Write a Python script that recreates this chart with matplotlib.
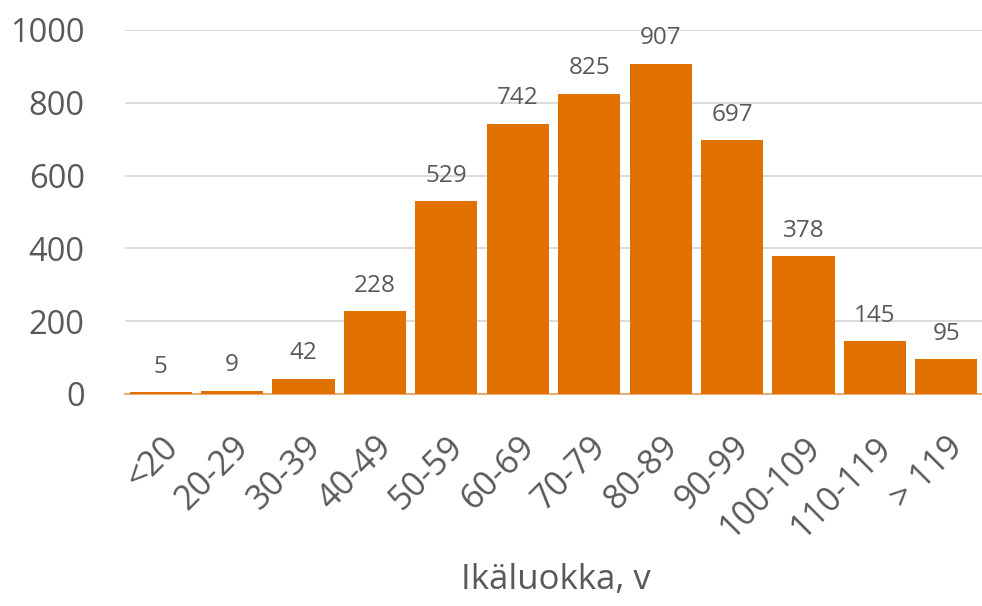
import matplotlib
matplotlib.use("Agg")
import matplotlib.pyplot as plt

categories = ["<20", "20-29", "30-39", "40-49", "50-59", "60-69", "70-79",
              "80-89", "90-99", "100-109", "110-119", "> 119"]
values = [5, 9, 42, 228, 529, 742, 825, 907, 697, 378, 145, 95]
yticks = [0, 200, 400, 600, 800, 1000]
xlabel = "Ikäluokka, v"

plt.rcParams['font.family'] = ['Open Sans', 'DejaVu Sans']
txt = '#595959'
bar_color = '#E07000'

fig = plt.figure(figsize=(9.82, 6.06), dpi=100)
ax = fig.add_axes([125/982, 1-394/606, 857/982, 364/606])
x = list(range(len(categories)))
bars = ax.bar(x, values, width=0.87, color=bar_color, zorder=3)
ax.set_xlim(-0.5, len(categories)-0.5)
ax.set_ylim(0, 1000)
ax.set_yticks(yticks)
ax.set_yticklabels([str(t) for t in yticks], fontsize=23.5, color=txt)
ax.yaxis.grid(True, color='#D9D9D9', linewidth=1.3, zorder=0)
ax.set_axisbelow(True)
for s in ['top', 'right', 'left']:
    ax.spines[s].set_visible(False)
ax.spines['bottom'].set_color('#E9A566')
ax.spines['bottom'].set_linewidth(1.3)
ax.tick_params(axis='both', length=0)
ax.tick_params(axis='y', pad=29)
ax.set_xticks(x)
ax.set_xticklabels(categories, rotation=45, ha='right', rotation_mode='anchor',
                   fontsize=24.5, color=txt)
ax.tick_params(axis='x', pad=26)
for xi, v in zip(x, values):
    ax.annotate(str(v), (xi, v), xytext=(0, 14), textcoords='offset points',
                ha='center', va='baseline', fontsize=17.5, color=txt)
fig.text(556/982, 1-580/606, xlabel, ha='center', va='center',
         fontsize=25, color=txt)
fig.savefig('out.png', dpi=100)
